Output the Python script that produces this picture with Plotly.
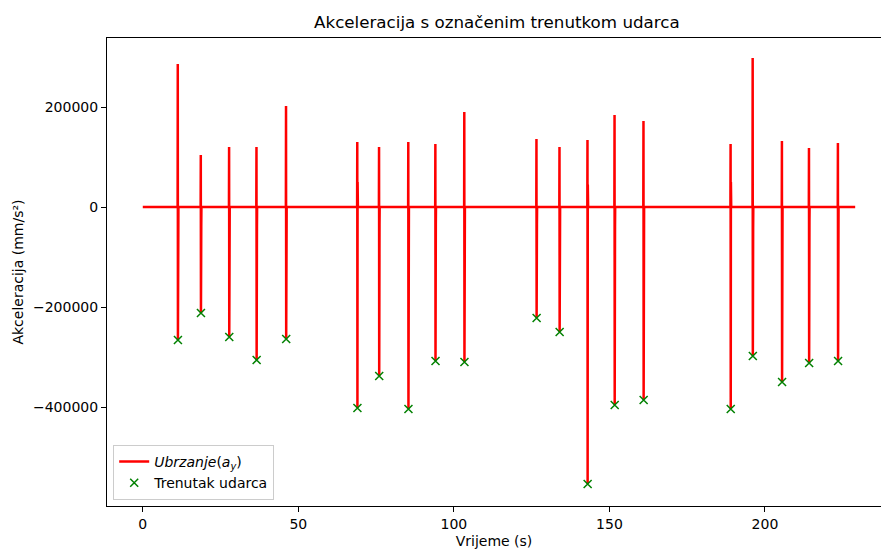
import plotly.graph_objects as go

# impact events (time in s, values in mm/s^2)
impact_t = [11.3, 18.7, 27.8, 36.6, 46.1, 69.0, 76.0, 85.4, 94.1, 103.4,
            126.6, 134.0, 143.0, 151.7, 161.0, 189.0, 196.1, 205.5, 214.2, 223.5]
peak = [286000, 104000, 120000, 120000, 202000, 130000, 120000, 130000, 126000, 190000,
        136000, 120000, 134000, 184000, 172000, 126000, 298000, 132000, 118000, 128000]
trough = [-266000, -212000, -260000, -306000, -264000, -402000, -338000, -404000, -308000, -310000,
          -222000, -250000, -554000, -396000, -386000, -404000, -298000, -350000, -312000, -308000]
ring_hi = [90000, 60000, 60000, 50000, 60000, 50000, 45000, 50000, 45000, 50000,
           50000, 55000, 45000, 55000, 50000, 50000, 60000, 40000, 40000, 45000]
ring_lo = [-70000, -40000, -45000, -40000, -45000, -40000, -35000, -40000, -35000, -40000,
           -35000, -45000, -35000, -40000, -40000, -40000, -45000, -30000, -30000, -35000]
t_start, t_end = 0.0, 229.0

# assemble the acceleration trace from the events
t_sig = [t_start]
a_sig = [0]
for t, p, tr, rh, rl in zip(impact_t, peak, trough, ring_hi, ring_lo):
    t_sig += [t - 0.1, t - 0.05, t, t + 0.05, t + 0.1, t + 0.15]
    a_sig += [0, p, tr, rh, rl, 0]
t_sig.append(t_end)
a_sig.append(0)

font = 'DejaVu Sans, Verdana, sans-serif'

fig = go.Figure()

fig.add_trace(go.Scatter(
    x=t_sig, y=a_sig,
    mode='lines',
    name='<i>Ubrzanje</i>(<i>a</i><sub><i>y</i></sub>)',
    line=dict(color='red', width=2.5)
))

fig.add_trace(go.Scatter(
    x=impact_t, y=trough,
    mode='markers',
    name='Trenutak udarca',
    marker=dict(symbol='x-thin', size=8, color='green',
                line=dict(color='green', width=1.5))
))

fig.update_layout(
    width=881, height=549,
    margin=dict(l=107, r=0, t=38, b=43, autoexpand=False),
    paper_bgcolor='white', plot_bgcolor='white',
    font=dict(family=font, size=14, color='black'),
    title=dict(text='Akceleracija s označenim trenutkom udarca',
               font=dict(size=16.7), xref='container', x=0.564,
               yref='container', y=1 - 22 / 549, xanchor='center', yanchor='middle'),
    legend=dict(x=0.008, y=0.013, xanchor='left', yanchor='bottom',
                bgcolor='rgba(255,255,255,0.8)', bordercolor='#cccccc', borderwidth=1,
                font=dict(size=14)),
    showlegend=True,
)

fig.update_xaxes(
    range=[-11.5, 237.3], tickvals=[0, 50, 100, 150, 200],
    showgrid=False, zeroline=False, automargin=False,
    showline=True, linecolor='black', linewidth=1.1, mirror=True,
    ticks='outside', ticklen=5, tickwidth=1.1, tickcolor='black',
    title=dict(text='Vrijeme (s)', standoff=6, font=dict(size=14))
)
fig.update_yaxes(
    range=[-598000, 338000], tickvals=[-400000, -200000, 0, 200000], tickformat='d',
    showgrid=False, zeroline=False, automargin=False,
    showline=True, linecolor='black', linewidth=1.1,
    ticks='outside', ticklen=5, tickwidth=1.1, tickcolor='black',
    title=dict(text='Akceleracija (mm/s²)', standoff=6, font=dict(size=14))
)

# drop the default page margin so the figure sits at the window corner
fig.write_html('out.html', config={'displayModeBar': False},
               post_script="document.body.style.margin='0';")
